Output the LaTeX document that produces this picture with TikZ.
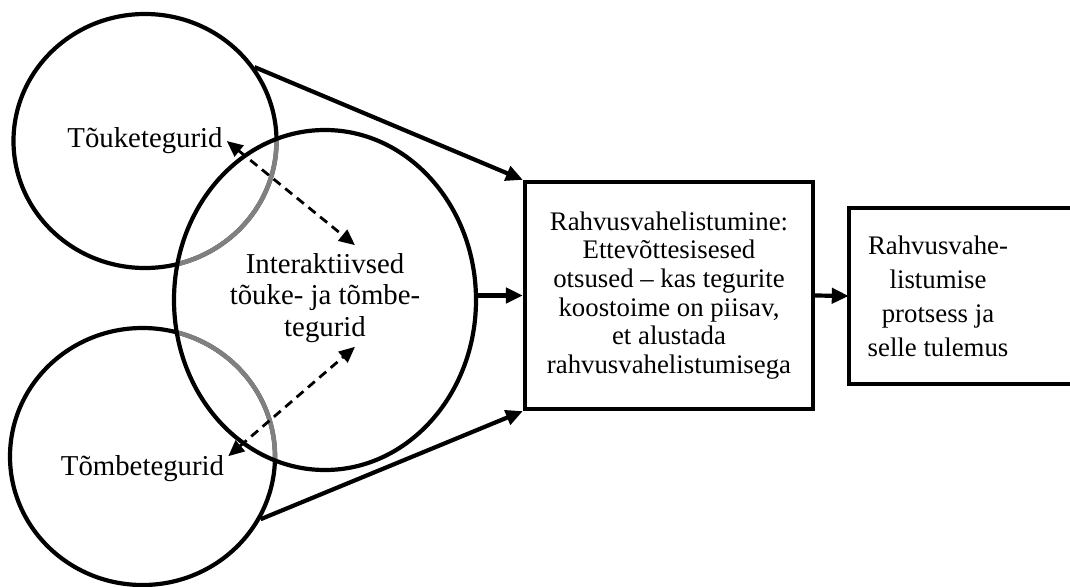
\documentclass[tikz,border=0pt]{standalone}
\usepackage{fontspec}
\setmainfont{Liberation Serif}
\usepackage{tikz}
\usetikzlibrary{arrows.meta,shapes.geometric,calc}
\tikzstyle{factor}=[ellipse,draw,line width=4.2pt,inner sep=0pt]
\tikzstyle{factortext}=[align=center,inner sep=4pt,font=\fontsize{28.8}{31.5}\selectfont]
\tikzstyle{decision}=[rectangle,draw,line width=4.2pt,align=center,inner sep=0pt,font=\fontsize{26.8}{28.7}\selectfont]
\tikzstyle{result}=[rectangle,align=center,inner sep=0pt,font=\fontsize{26.8}{34}\selectfont]
\tikzstyle{edge}=[draw,line width=4.2pt,-{Triangle[length=17pt,width=15pt]}]
\tikzstyle{link}=[draw,line width=2.8pt,dash pattern=on 9pt off 6pt,{Triangle[length=16pt,width=14pt]}-{Triangle[length=16pt,width=14pt]}]

\begin{document}
\begin{tikzpicture}[x=1pt,y=-1pt]

    \clip (0,0) rectangle (1070,586);

    % the three factor groups
    \node[factor, minimum width=263pt, minimum height=254pt] (push) at (145,141) {};
    \node[factor, minimum width=265pt, minimum height=257pt] (pull) at (142.5,456.5) {};

    \begin{scope}
        \clip (325,300) ellipse [x radius=151, y radius=170];
        \draw[gray, line width=4.6pt] (push.center) ellipse [x radius=131.5, y radius=127];
        \draw[gray, line width=4.6pt] (pull.center) ellipse [x radius=132.5, y radius=128.5];
    \end{scope}

    \node[factor, minimum width=302pt, minimum height=340pt] (mid) at (325,300) {};

    \node[factortext] (pushtext) at (push) {Tõuketegurid};
    \node[factortext] (pulltext) at ($(pull)+(0,12)$) {Tõmbetegurid};
    \node[factortext] (midtext) at ($(mid)+(0,-2)$) {Interaktiivsed\\tõuke- ja tõmbe-\\tegurid};

    % decision and result
    \node[decision, minimum width=288pt, minimum height=227pt] (decide) at (669,295.5)
        {Rahvusvahelistumine:\\Ettevõttesisesed\\otsused -- kas tegurite\\koostoime on piisav,\\et alustada\\rahvusvahelistumisega};
    \node[result, minimum width=178pt, minimum height=176pt] (proc) at (938,296)
        {Rahvusvahe-\\listumise\\protsess ja\\selle tulemus};
    \draw[line width=4.2pt] ($(proc.north east)+(80,0)$) -- (proc.north west) -- (proc.south west) -- ($(proc.south east)+(80,0)$);

    \path[edge] (push.34) -- (decide.north west);
    \path[edge] (mid.east |- decide.west) -- (decide.west);
    \path[edge] (pull.-28) -- (decide.south west);
    \path[edge] (decide.east) -- (proc.west);

    \path[link] (pushtext.east) -- ([xshift=30pt,yshift=4pt]midtext.north);
    \path[link] ([yshift=-5pt]pulltext.north east) -- ([xshift=30pt]midtext.south);

\end{tikzpicture}
\end{document}
